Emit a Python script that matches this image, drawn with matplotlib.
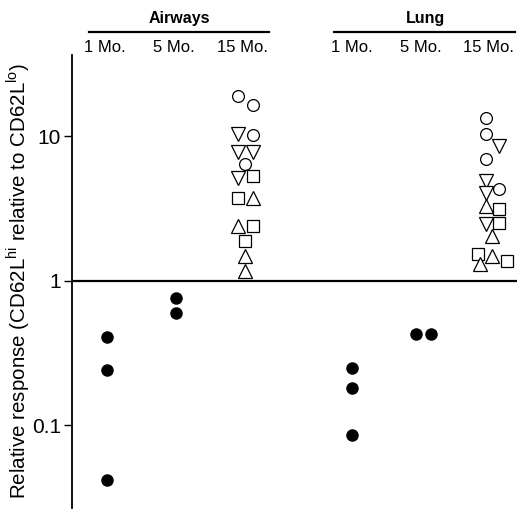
import numpy as np
from matplotlib import pyplot as plt

plt.rcParams['font.family'] = ['Liberation Sans', 'DejaVu Sans']
plt.rcParams['mathtext.fontset'] = 'custom'
plt.rcParams['mathtext.rm'] = 'Liberation Sans'

# column layout: airways 1/5/15 Mo, then lung 1/5/15 Mo
col_labels = ["1 Mo.", "5 Mo.", "15 Mo.", "1 Mo.", "5 Mo.", "15 Mo."]
group_names = ["Airways", "Lung"]

# young mice (filled dots)
airways_1mo = [0.41, 0.24, 0.042]
airways_5mo = [0.76, 0.60]
lung_1mo = [0.25, 0.18, 0.086]
lung_5mo = [0.43, 0.43]

# 15 month old mice, one list per symbol (experiment)
airways_15_circle = [19.0, 16.5, 10.25, 6.45]
airways_15_down = [10.4, 7.7, 7.7, 5.16]
airways_15_square = [5.33, 3.75, 2.40, 1.89]
airways_15_up = [3.75, 2.40, 1.49, 1.17]

lung_15_circle = [13.4, 10.4, 6.98, 4.33]
lung_15_down = [8.6, 4.92, 4.06, 2.48]
lung_15_square = [3.15, 2.52, 1.54, 1.37]
lung_15_up = [3.30, 2.05, 1.49, 1.31]

# horizontal spread of overlapping symbols (x units)
xpos = [0, 1, 2, 3.6, 4.6, 5.6]
dx_a1 = [0.03, 0.03, 0.03]
dx_a5 = [0.04, 0.04]
dx_l1 = [0.0, 0.0, 0.0]
dx_l5 = [-0.07, 0.15]
dx_a15_circle = [-0.06, 0.16, 0.16, 0.05]
dx_a15_down = [-0.06, -0.06, 0.16, -0.06]
dx_a15_square = [0.16, -0.06, 0.16, 0.05]
dx_a15_up = [0.16, -0.06, 0.05, 0.05]
dx_l15_circle = [-0.04, -0.04, -0.04, 0.15]
dx_l15_down = [0.15, -0.04, -0.04, -0.04]
dx_l15_square = [0.15, 0.15, -0.155, 0.27]
dx_l15_up = [-0.04, 0.05, 0.05, -0.13]

fig = plt.figure(figsize=(5.17, 5.16), dpi=100)
ax = fig.add_axes([72/517, 8/516, 445/517, 453/516])

def dots(x0, dx, vals):
    ax.plot(np.array(dx) + x0, vals, 'o', color='black', ms=8, clip_on=False)

def opens(x0, dx, vals, marker, ms):
    ax.plot(np.array(dx) + x0, vals, marker, color='black', mfc='white', mew=0.9, ms=ms, linestyle='none', clip_on=False)

dots(xpos[0], dx_a1, airways_1mo)
dots(xpos[1], dx_a5, airways_5mo)
dots(xpos[3], dx_l1, lung_1mo)
dots(xpos[4], dx_l5, lung_5mo)

opens(xpos[2], dx_a15_circle, airways_15_circle, 'o', 8.5)
opens(xpos[2], dx_a15_down, airways_15_down, 'v', 9.5)
opens(xpos[2], dx_a15_square, airways_15_square, 's', 8)
opens(xpos[2], dx_a15_up, airways_15_up, '^', 9.5)
opens(xpos[5], dx_l15_circle, lung_15_circle, 'o', 8.5)
opens(xpos[5], dx_l15_down, lung_15_down, 'v', 9.5)
opens(xpos[5], dx_l15_square, lung_15_square, 's', 8)
opens(xpos[5], dx_l15_up, lung_15_up, '^', 9.5)

ax.set_yscale('log')
ax.set_ylim(0.0267, 36.4)
ax.set_xlim(-0.48, 6.01)
ax.set_yticks([0.1, 1, 10])
ax.set_yticklabels(["0.1", "1", "10"])
ax.yaxis.set_minor_locator(plt.NullLocator())
ax.tick_params(axis='y', length=6, width=1, labelsize=15, pad=2)
ax.set_xticks([])
for s in ['top', 'right', 'bottom']:
    ax.spines[s].set_visible(False)
ax.spines['left'].set_linewidth(1.3)

# reference line at 1
ax.axhline(1, color='black', lw=1.6, xmin=0, xmax=1)

ax.set_ylabel("Relative response (CD62L$^{\\mathrm{hi}}$ relative to CD62L$^{\\mathrm{lo}}$)", fontsize=14.8)
ax.yaxis.set_label_coords(-40/445, 0.5)

# column and group headers above the axes
tr = ax.get_xaxis_transform()
for x, lab in zip(xpos, col_labels):
    ax.text(x, 1.017, lab, transform=tr, ha='center', va='center', fontsize=12)
ax.plot([-0.234, 2.394], [1.051, 1.051], transform=tr, color='black', lw=1.6, clip_on=False)
ax.plot([3.343, 5.985], [1.051, 1.051], transform=tr, color='black', lw=1.6, clip_on=False)
ax.text(1.08, 1.08, group_names[0], transform=tr, ha='center', va='center', fontsize=11.5, fontweight='bold')
ax.text(4.67, 1.08, group_names[1], transform=tr, ha='center', va='center', fontsize=11.5, fontweight='bold')

fig.savefig("out.png", dpi=100)
